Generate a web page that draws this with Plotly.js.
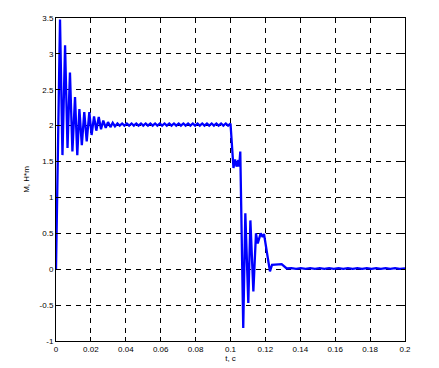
<!DOCTYPE html>
<html><head><meta charset="utf-8">
<script src="https://cdn.plot.ly/plotly-3.0.1.min.js"></script>
<style>html,body{margin:0;padding:0;background:#fff;}#chart{width:439px;height:368px;}</style>
</head><body><div id="chart"></div>
<script>
// Start-up transient
const tStart = [0, 0.0004, 0.0008, 0.0012, 0.0023, 0.0037, 0.0052, 0.0066, 0.0080, 0.0094, 0.0109, 0.0122, 0.0134, 0.0148, 0.0162, 0.0176, 0.0191, 0.0204, 0.0218, 0.0231, 0.0245, 0.0258, 0.0271, 0.0285, 0.0298, 0.0312, 0.0325, 0.0338, 0.0352];
const mStart = [0, 0.9, 1.75, 1.8, 3.48, 1.59, 3.12, 1.69, 2.74, 1.64, 2.40, 1.59, 2.23, 1.73, 2.19, 1.78, 2.19, 1.87, 2.13, 1.93, 2.12, 1.95, 2.07, 1.97, 2.05, 1.98, 2.04, 1.99, 2.03];
// Steady ripple at 2 N*m
const tSteady = [0.0365, 0.0379, 0.0392, 0.0406, 0.0419, 0.0433, 0.0446, 0.0460, 0.0473, 0.0487, 0.0500, 0.0514, 0.0527, 0.0541, 0.0554, 0.0568, 0.0581, 0.0595, 0.0608, 0.0622, 0.0635, 0.0649, 0.0662, 0.0676, 0.0689, 0.0703, 0.0716, 0.0730, 0.0743, 0.0757, 0.0770, 0.0784, 0.0797, 0.0811, 0.0824, 0.0838, 0.0851, 0.0865, 0.0878, 0.0892, 0.0905, 0.0919, 0.0932, 0.0946, 0.0959, 0.0973, 0.0986, 0.1000];
const mSteady = [2.00, 2.03, 2.00, 2.03, 2.00, 2.03, 2.00, 2.03, 2.00, 2.03, 2.00, 2.03, 2.00, 2.03, 2.00, 2.03, 2.00, 2.03, 2.00, 2.03, 2.00, 2.03, 2.00, 2.03, 2.00, 2.03, 2.00, 2.03, 2.00, 2.03, 2.00, 2.03, 2.00, 2.03, 2.00, 2.03, 2.00, 2.03, 2.00, 2.03, 2.00, 2.03, 2.00, 2.03, 2.00, 2.03, 2.00, 2.03];
// Load-off transient
const tDrop = [0.1017, 0.1026, 0.1035, 0.1045, 0.1050, 0.1056, 0.1073, 0.1085, 0.1102, 0.1114, 0.1131, 0.1146, 0.1156, 0.1173, 0.1184, 0.1192, 0.1226, 0.1238, 0.1265, 0.1293, 0.1322];
const mDrop = [1.41, 1.53, 1.43, 1.52, 1.43, 1.64, -0.82, 0.78, -0.47, 0.68, -0.31, 0.50, 0.36, 0.50, 0.45, 0.49, -0.03, 0.06, 0.07, 0.07, 0.01];
// Idle tail
const tTail = [0.1349, 0.1376, 0.1403, 0.1430, 0.1457, 0.1484, 0.1511, 0.1538, 0.1565, 0.1592, 0.1619, 0.1646, 0.1673, 0.1700, 0.1727, 0.1754, 0.1781, 0.1808, 0.1835, 0.1862, 0.1889, 0.1916, 0.1943, 0.1970, 0.2000];
const mTail = [0.015, 0.005, 0.015, 0.005, 0.015, 0.005, 0.015, 0.005, 0.015, 0.005, 0.015, 0.005, 0.015, 0.005, 0.015, 0.005, 0.015, 0.005, 0.015, 0.005, 0.015, 0.005, 0.015, 0.005, 0.01];

const xTicks = [0, 0.02, 0.04, 0.06, 0.08, 0.1, 0.12, 0.14, 0.16, 0.18, 0.2];
const xTickText = ['0', '0.02', '0.04', '0.06', '0.08', '0.1', '0.12', '0.14', '0.16', '0.18', '0.2'];
const yTicks = [-1, -0.5, 0, 0.5, 1, 1.5, 2, 2.5, 3, 3.5];
const yTickText = ['-1', '-0.5', '0', '0.5', '1', '1.5', '2', '2.5', '3', '3.5'];

const t = tStart.concat(tSteady, tDrop, tTail);
const m = mStart.concat(mSteady, mDrop, mTail);

const font = {family: 'Liberation Sans, Arial, sans-serif', size: 8, color: '#000'};
const axisCommon = {
  showline: true, linecolor: '#000', linewidth: 1, mirror: 'ticks',
  ticks: 'inside', ticklen: 4, tickcolor: '#000', tickwidth: 1,
  showgrid: true, gridcolor: '#000', gridwidth: 1, griddash: '5px,5px',
  zeroline: false, tickfont: font
};
const layout = {
  width: 439, height: 368,
  margin: {l: 56, r: 34, t: 18, b: 27},
  paper_bgcolor: '#fff', plot_bgcolor: '#fff',
  showlegend: false,
  font: font,
  xaxis: Object.assign({}, axisCommon, {
    range: [0, 0.2], tickmode: 'array', tickvals: xTicks, ticktext: xTickText,
    title: {text: 't, c', font: font, standoff: 2}
  }),
  yaxis: Object.assign({}, axisCommon, {
    range: [-1, 3.5], tickmode: 'array', tickvals: yTicks, ticktext: yTickText,
    title: {text: 'M, H*m', font: font, standoff: 8}
  })
};
Plotly.newPlot('chart', [{
  x: t, y: m, type: 'scatter', mode: 'lines',
  line: {color: '#0000ff', width: 2.3}
}], layout, {staticPlot: true, displayModeBar: false});
</script>
</body></html>
